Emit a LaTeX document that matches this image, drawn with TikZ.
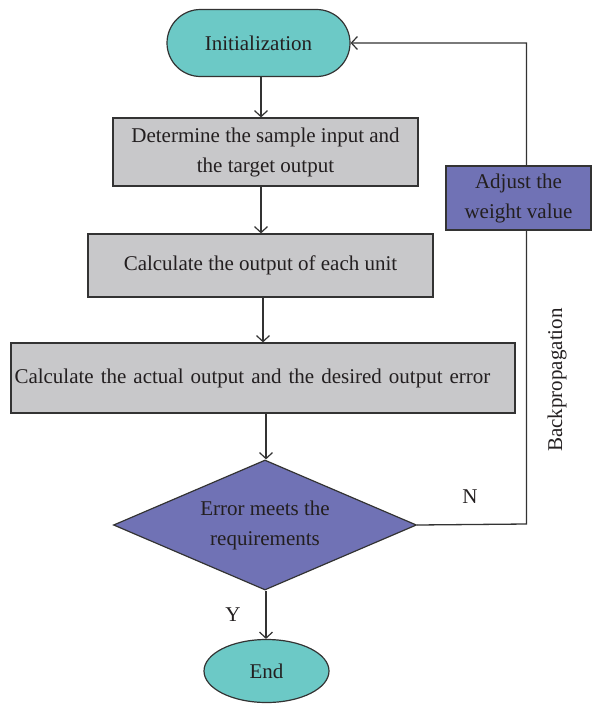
\documentclass[tikz,border=0pt]{standalone}
\usepackage{fontspec}
\setmainfont{Liberation Serif}
\usetikzlibrary{shapes.geometric,arrows.meta}
\definecolor{teal1}{HTML}{6CC9C6}
\definecolor{gray1}{HTML}{C8C8CA}
\definecolor{purp}{HTML}{7072B5}
\definecolor{ln}{HTML}{333333}
\definecolor{txt}{HTML}{231F20}
\begin{document}
\begin{tikzpicture}[x=1pt,y=-1pt,
  every node/.style={font=\fontsize{21}{30}\selectfont, text=txt, align=center, inner sep=0pt, line width=1.2pt, draw=ln},
  procbox/.style={fill=gray1},
  term/.style={fill=teal1},
  arr/.style={draw=ln, line width=1.3pt, -{Straight Barb[length=6pt,width=13pt,line width=1.2pt]}},
  lbl/.style={draw=none}]
\useasboundingbox (0,0) rectangle (592,704);
\node[term, rounded corners=33.5pt, minimum width=183pt, minimum height=67pt] (init) at (258.5,43) {Initialization};
\node[procbox, minimum width=305pt, minimum height=68pt] (b1) at (265.5,152) {Determine the sample input and\\the target output};
\node[procbox, minimum width=345pt, minimum height=63pt] (b2) at (260.5,265.5) {Calculate the output of each unit};
\node[procbox, minimum width=504pt, minimum height=70pt, text width=497pt, inner xsep=3.5pt, align=left] (b3) at (263,378) {Calculate the actual output and the desired output error};
\node[diamond, fill=purp, aspect=2.33, minimum width=303pt, minimum height=130pt] (dia) at (265,525) {Error meets the\\requirements};
\node[ellipse, term, minimum width=125pt, minimum height=63pt] (end) at (266.5,671) {End};
\coordinate (c) at (526.5,524);
\draw[arr] (dia.east) -- (c) |- (init.east);
\node[fill=purp, minimum width=145pt, minimum height=64pt] (adj) at (518.5,198) {Adjust the\\weight value};
\node[lbl, rotate=90] (bp) at (557,380) {Backpropagation};
\node[lbl] (n) at (470,497) {N};
\node[lbl] (y) at (233,615) {Y};
\draw[arr] ([xshift=2.5pt]init.south) -- ([xshift=2.5pt]init.south |- b1.north);
\draw[arr] ([xshift=-4.5pt]b1.south) -- ([xshift=-4.5pt]b1.south |- b2.north);
\draw[arr] ([xshift=2.5pt]b2.south) -- ([xshift=2.5pt]b2.south |- b3.north);
\draw[arr] ([xshift=3pt]b3.south) -- ([xshift=3pt]b3.south |- dia.north);
\draw[arr] ([xshift=1pt]dia.south) -- ([xshift=1pt]dia.south |- end.north);
\end{tikzpicture}
\end{document}
